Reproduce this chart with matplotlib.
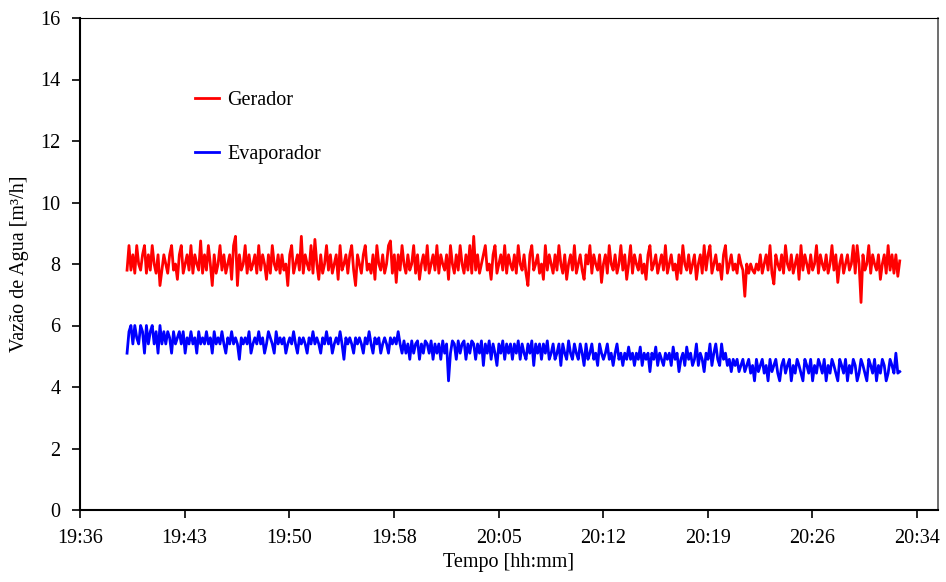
import numpy as np
import matplotlib.pyplot as plt

# time axis: minutes after 19:36
tick_labels = ['19:36', '19:43', '19:50', '19:58', '20:05', '20:12', '20:19', '20:26', '20:34']
t_start, t_end = 3.26, 56.8

# water flow [m3/h]
gerador = [
    7.8, 8.6, 7.8, 8.3, 7.7, 8.6, 8.0, 7.8, 8.3, 8.6, 7.7, 8.3, 7.8, 8.6, 8.0, 7.7, 8.3, 7.3, 7.8, 8.3,
    8.0, 7.7, 8.3, 8.6, 7.8, 8.0, 7.5, 8.3, 8.6, 7.7, 8.0, 8.3, 7.8, 8.6, 7.7, 8.3, 8.0, 7.8, 8.75, 7.7,
    8.3, 7.8, 8.6, 8.0, 7.3, 8.3, 7.7, 8.0, 8.6, 7.8, 8.3, 7.7, 8.0, 8.3, 7.5, 8.6, 8.9, 7.3, 8.3, 7.8,
    8.0, 8.6, 7.7, 8.3, 7.8, 8.0, 8.3, 7.7, 8.6, 7.8, 8.3, 8.0, 7.5, 8.3, 7.7, 8.6, 8.0, 7.8, 8.3, 7.7,
    8.3, 7.8, 8.0, 7.3, 8.3, 8.6, 7.7, 8.0, 8.3, 7.8, 8.9, 7.7, 8.3, 8.0, 7.8, 8.6, 7.7, 8.8, 8.0, 7.5,
    8.3, 7.7, 8.0, 8.6, 7.8, 8.3, 7.7, 8.0, 8.3, 7.5, 8.6, 7.8, 8.0, 8.3, 7.7, 8.3, 8.6, 7.8, 7.3, 8.3,
    8.0, 7.7, 8.3, 8.6, 7.8, 8.0, 7.7, 8.3, 7.5, 8.6, 8.0, 7.8, 8.3, 7.7, 8.0, 8.6, 8.75, 7.7, 8.3, 7.4,
    8.3, 7.8, 8.6, 8.0, 7.7, 8.3, 7.8, 8.0, 8.6, 7.7, 8.3, 7.5, 8.0, 8.3, 7.8, 8.6, 7.7, 8.0, 8.3, 7.8,
    8.6, 7.7, 8.3, 8.0, 7.8, 8.3, 7.5, 8.6, 8.0, 7.7, 8.3, 7.8, 8.6, 8.0, 7.7, 8.3, 7.8, 8.6, 7.7, 8.9,
    7.8, 8.3, 7.7, 8.0, 8.3, 8.6, 7.8, 8.0, 7.5, 8.3, 8.6, 7.7, 8.0, 8.3, 7.8, 8.6, 7.7, 8.3, 8.0, 7.8,
    8.3, 7.7, 8.6, 8.0, 7.8, 8.3, 7.7, 7.3, 8.3, 8.6, 7.8, 8.0, 8.3, 7.7, 8.0, 7.5, 8.6, 7.8, 8.3, 8.0,
    7.7, 8.3, 7.8, 8.6, 8.0, 7.7, 8.3, 7.5, 8.0, 8.3, 7.8, 8.6, 7.7, 8.0, 8.3, 7.8, 7.5, 8.3, 8.0, 8.6,
    7.7, 8.3, 8.0, 7.8, 8.3, 7.4, 8.0, 8.3, 7.7, 8.6, 8.0, 7.8, 8.3, 7.7, 8.0, 8.6, 7.8, 8.3, 7.5, 8.0,
    8.6, 7.7, 8.3, 8.0, 7.8, 8.3, 7.7, 8.0, 7.5, 8.3, 8.6, 7.8, 8.0, 8.3, 7.7, 8.0, 8.3, 7.8, 8.6, 7.7,
    8.0, 8.3, 7.8, 8.0, 7.5, 8.3, 7.7, 8.6, 8.0, 7.8, 8.3, 7.7, 8.0, 8.3, 7.5, 8.0, 8.3, 7.7, 8.6, 7.8,
    8.3, 8.6, 7.7, 8.0, 8.3, 7.8, 8.0, 7.5, 8.3, 8.6, 7.7, 8.0, 8.3, 7.8, 8.0, 7.7, 8.3, 8.0, 7.8, 6.95,
    8.0, 7.7, 8.0, 7.8, 7.7, 8.0, 7.8, 8.3, 7.7, 8.0, 8.3, 7.8, 8.6, 7.7, 7.35, 8.3, 8.0, 7.8, 8.3, 7.7,
    8.6, 8.0, 7.8, 8.3, 7.7, 8.0, 8.3, 7.5, 8.6, 7.8, 8.3, 8.0, 7.7, 8.3, 7.8, 8.0, 8.6, 7.7, 8.3, 8.0,
    7.8, 8.3, 7.7, 8.0, 8.6, 7.8, 8.3, 7.4, 8.0, 8.3, 7.7, 8.0, 8.3, 7.8, 8.0, 8.6, 7.7, 8.6, 8.0, 6.75,
    8.3, 7.8, 8.0, 8.6, 7.7, 8.3, 8.0, 7.8, 8.3, 7.5, 8.0, 8.3, 7.7, 8.6, 7.8, 8.3, 7.7, 8.3, 7.6, 8.1,
]
evaporador = [
    5.1, 5.8, 6.0, 5.4, 6.0, 5.6, 5.4, 6.0, 5.8, 5.1, 6.0, 5.4, 5.8, 6.0, 5.4, 5.8, 5.1, 6.0, 5.4, 5.8,
    5.4, 5.8, 5.6, 5.1, 5.8, 5.4, 5.6, 5.8, 5.4, 5.8, 5.1, 5.6, 5.4, 5.8, 5.4, 5.6, 5.1, 5.8, 5.4, 5.6,
    5.4, 5.8, 5.4, 5.6, 5.1, 5.8, 5.4, 5.6, 5.4, 5.8, 5.4, 5.1, 5.6, 5.4, 5.8, 5.4, 5.6, 5.4, 4.9, 5.6,
    5.4, 5.6, 5.4, 5.8, 5.1, 5.4, 5.6, 5.4, 5.8, 5.4, 5.6, 5.1, 5.4, 5.8, 5.6, 5.4, 5.1, 5.8, 5.4, 5.6,
    5.4, 5.6, 5.1, 5.4, 5.6, 5.4, 5.8, 5.4, 5.1, 5.6, 5.4, 5.6, 5.4, 5.1, 5.6, 5.4, 5.8, 5.4, 5.6, 5.4,
    5.1, 5.6, 5.4, 5.8, 5.4, 5.6, 5.1, 5.4, 5.6, 5.4, 5.8, 5.4, 4.9, 5.6, 5.4, 5.6, 5.4, 5.1, 5.6, 5.4,
    5.6, 5.4, 5.1, 5.6, 5.4, 5.8, 5.4, 5.1, 5.6, 5.4, 5.6, 5.1, 5.4, 5.6, 5.4, 5.1, 5.6, 5.4, 5.6, 5.4,
    5.8, 5.4, 5.1, 5.5, 5.1, 5.4, 4.9, 5.5, 5.1, 5.4, 5.5, 4.9, 5.4, 5.1, 5.5, 5.4, 5.1, 5.5, 4.9, 5.4,
    5.1, 5.4, 4.9, 5.5, 5.1, 5.4, 4.2, 5.1, 5.5, 5.4, 4.9, 5.5, 5.1, 5.4, 5.5, 4.9, 5.4, 5.1, 5.5, 5.4,
    4.9, 5.4, 5.1, 5.5, 4.7, 5.4, 5.1, 5.5, 4.9, 5.4, 5.1, 4.7, 5.4, 5.1, 5.5, 4.9, 5.4, 5.1, 5.4, 4.9,
    5.4, 5.1, 5.5, 4.9, 5.4, 5.1, 4.9, 5.4, 5.1, 5.5, 4.7, 5.4, 5.1, 5.4, 4.9, 5.4, 5.1, 5.5, 4.9, 5.1,
    5.4, 4.9, 5.1, 5.4, 4.7, 5.4, 5.1, 4.9, 5.5, 5.1, 4.9, 5.4, 5.1, 4.9, 5.4, 5.1, 4.7, 5.4, 4.9, 5.1,
    5.4, 4.9, 5.1, 4.7, 5.4, 5.1, 4.9, 5.1, 5.4, 4.9, 5.1, 4.7, 5.1, 5.4, 4.9, 5.1, 4.7, 5.1, 4.9, 5.3,
    4.9, 5.1, 4.7, 5.1, 4.9, 5.3, 4.7, 5.1, 4.9, 5.1, 4.5, 5.1, 4.9, 5.3, 4.7, 5.1, 4.9, 4.7, 5.1, 4.9,
    5.1, 4.7, 5.3, 4.9, 5.1, 4.5, 4.9, 5.1, 4.7, 5.3, 4.9, 5.1, 4.7, 4.9, 5.4, 4.7, 5.1, 4.9, 4.5, 5.1,
    4.9, 5.4, 4.7, 5.1, 5.4, 4.9, 4.7, 5.4, 4.9, 5.1, 4.7, 4.9, 4.5, 4.9, 4.7, 4.9, 4.5, 4.7, 4.9, 4.5,
    4.7, 4.9, 4.45, 4.7, 4.2, 4.9, 4.5, 4.7, 4.9, 4.45, 4.7, 4.2, 4.9, 4.5, 4.7, 4.9, 4.45, 4.2, 4.7, 4.9,
    4.45, 4.7, 4.9, 4.2, 4.7, 4.45, 4.9, 4.7, 4.45, 4.2, 4.9, 4.7, 4.45, 4.9, 4.2, 4.7, 4.45, 4.9, 4.7, 4.45,
    4.9, 4.2, 4.7, 4.45, 4.9, 4.7, 4.45, 4.2, 4.9, 4.7, 4.45, 4.9, 4.2, 4.7, 4.45, 4.9, 4.7, 4.2, 4.45, 4.9,
    4.7, 4.45, 4.2, 4.9, 4.7, 4.45, 4.9, 4.2, 4.7, 4.45, 4.9, 4.7, 4.2, 4.45, 4.9, 4.7, 4.45, 5.1, 4.45, 4.5,
]

plt.rcParams['font.family'] = ['Liberation Serif', 'DejaVu Serif']
plt.rcParams['font.size'] = 14.5

t = np.linspace(t_start, t_end, len(gerador))

fig = plt.figure(figsize=(9.46, 5.82), dpi=100)
ax = fig.add_axes([80/946, 1 - 510/582, 858/946, 492/582])

ax.plot(t, gerador, color='#ff0000', lw=2.0, label='Gerador')
ax.plot(t, evaporador, color='#0000ff', lw=2.0, label='Evaporador')

ax.set_xlim(0, 59.45)
ax.set_ylim(0, 16)
ax.set_xticks(np.arange(len(tick_labels)) * 7.25)
ax.set_xticklabels(tick_labels)
ax.set_yticks(np.arange(0, 17, 2))
ax.tick_params(direction='out', length=6, width=1.2, colors='black', pad=8)

for s in ['left', 'bottom']:
    ax.spines[s].set_linewidth(1.5)
    ax.spines[s].set_color('black')
ax.spines['top'].set_color('black')
ax.spines['right'].set_color('#555555')
ax.spines['right'].set_linewidth(1.2)

ax.set_xlabel('Tempo [hh:mm]', labelpad=3)
ax.set_ylabel('Vazão de Agua [m³/h]', labelpad=8)

ax.legend(loc='upper left', bbox_to_anchor=(0.134, 0.852), frameon=False,
          handlelength=1.2, handletextpad=0.4, labelspacing=1.75, borderpad=0,
          borderaxespad=0)

fig.savefig('out.png', dpi=100)
